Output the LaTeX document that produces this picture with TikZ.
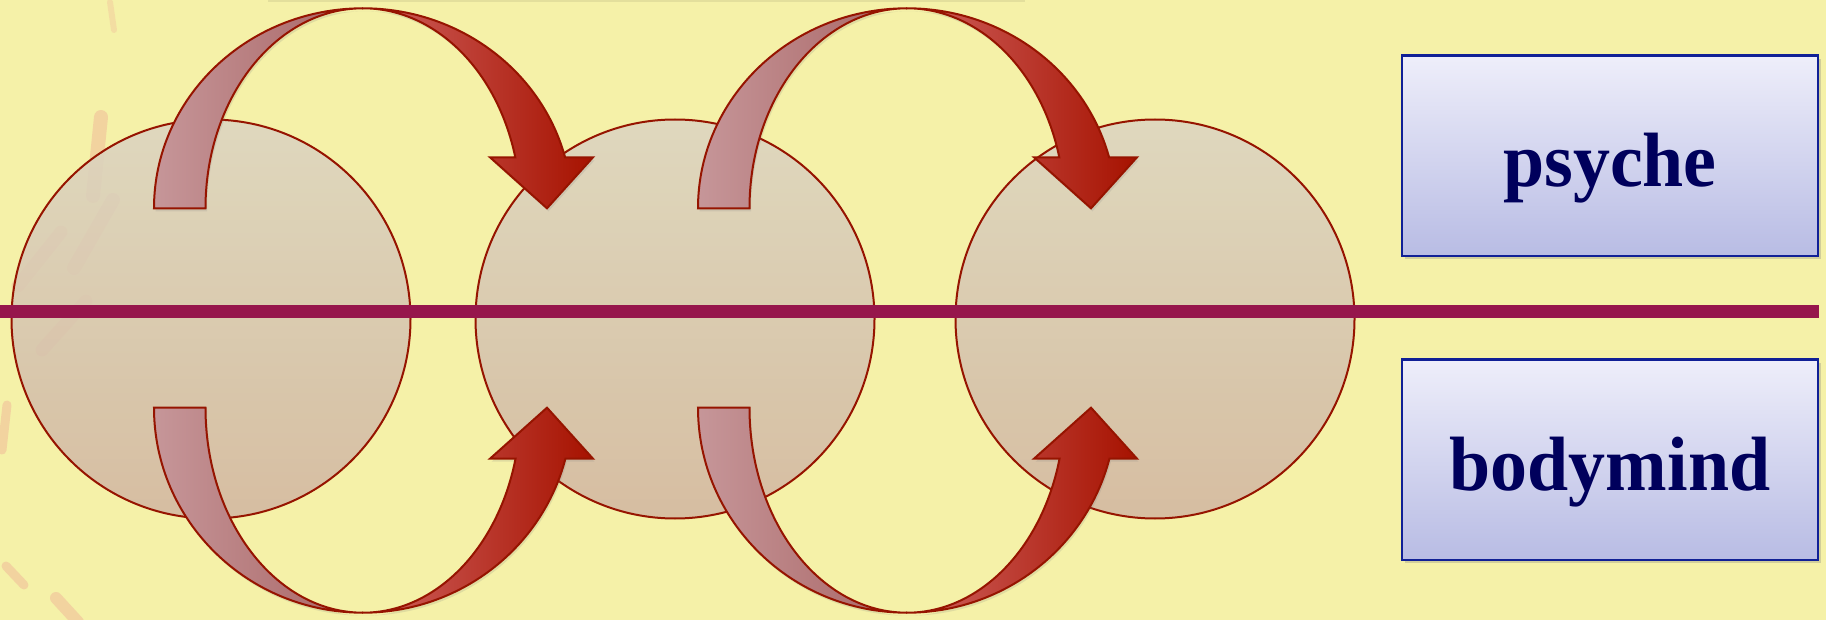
\documentclass[tikz,border=0pt]{standalone}
\usepackage{fontspec}
\setmainfont{Liberation Serif}
\usepackage{graphicx}
\usetikzlibrary{shadows}
\definecolor{bg}{RGB}{245,241,168}
\definecolor{streak}{RGB}{240,175,150}
\definecolor{circtop}{RGB}{220,213,193}
\definecolor{circbot}{RGB}{210,183,161}
\definecolor{darkred}{RGB}{150,20,0}
\definecolor{divline}{RGB}{150,22,76}
\definecolor{backL}{RGB}{198,150,153}
\definecolor{backR}{RGB}{168,100,100}
\definecolor{frontL}{RGB}{208,98,95}
\definecolor{frontR}{RGB}{166,18,0}
\definecolor{boxborder}{RGB}{16,32,150}
\definecolor{boxtop}{RGB}{238,238,250}
\definecolor{boxbot}{RGB}{184,188,228}
\definecolor{navytext}{RGB}{0,0,92}
\tikzset{
  circ/.style={circle, minimum size=399pt, inner sep=0pt, draw=darkred, line width=2pt,
    top color=circtop, bottom color=circbot, fill opacity=0.88},
  arrowback/.style={draw=darkred, line width=2pt, left color=backL, right color=backR,
    drop shadow={opacity=0.18, shadow xshift=1.5pt, shadow yshift=-3pt}},
  arrowfront/.style={draw=darkred, line width=2pt, left color=frontL, right color=frontR,
    drop shadow={opacity=0.18, shadow xshift=1.5pt, shadow yshift=-3pt}},
  labelbox/.style={rectangle, draw=boxborder, line width=2.2pt, top color=boxtop, bottom color=boxbot,
    minimum width=416pt, minimum height=200.5pt, inner sep=0pt, text height=61pt, text depth=0pt,
    text=navytext, font=\fontsize{77}{80}\selectfont\bfseries,
    drop shadow={opacity=0.3, shadow xshift=3pt, shadow yshift=-3pt}},
  streakline/.style={draw=streak, line cap=round, opacity=0.45}
}
% #1 centre of the ellipses, #2 vertical radius, #3 +1 (arc above) or -1 (arc below)
\newcommand\bandarrow[3]{%
  \begin{scope}[shift={#1}]
    \pgfmathsetmacro\aPk{180-90*(#3)}%
    \pgfmathsetmacro\aEnd{180-(#3)*(180-asin(51/#2))}%
    \pgfmathsetmacro\hY{51*(#3)}%
    \pgfmathsetmacro\inX{157.5*cos(asin(51/#2))}%
    \pgfmathsetmacro\pkY{(#2)*(#3)}%
    \path[arrowback] (-209,0) arc[start angle=180, end angle=\aPk, x radius=209, y radius=#2]
      arc[start angle=\aPk, end angle=180, x radius=157.5, y radius=#2] -- cycle;
    \path[arrowfront] (0,\pkY) arc[start angle=\aPk, end angle=\aEnd, x radius=209, y radius=#2]
      -- (230,\hY) -- (184,0) -- (127,\hY) -- (\inX,\hY)
      arc[start angle=\aEnd, end angle=\aPk, x radius=157.5, y radius=#2] -- cycle;
  \end{scope}}
\begin{document}
\begin{tikzpicture}[x=1pt,y=1pt]
  \fill[bg] (0,0) rectangle (1826,-620);
  \useasboundingbox (0,0) rectangle (1826,-620);
  \fill[black, opacity=0.07] (268,0) rectangle (1025,-2.5);
  % faint background streaks
  \draw[streakline, line width=14pt] (93,-196) -- (101,-117);
  \draw[streakline, line width=14pt] (74,-268) -- (113,-200);
  \draw[streakline, line width=13pt] (18,-286) -- (61,-232);
  \draw[streakline, line width=13pt] (42,-350) -- (86,-301);
  \draw[streakline, line width=9pt] (2,-450) -- (7,-405);
  \draw[streakline, line width=9pt] (6,-566) -- (24,-585);
  \draw[streakline, line width=12pt] (56,-598) -- (78,-622);
  \draw[streakline, line width=6pt, opacity=0.3] (110,-2) -- (114,-30);
  % circles
  \node[circ] (c1) at (211,-319) {};
  \node[circ] (c2) at (675,-319) {};
  \node[circ] (c3) at (1155,-319) {};
  % dividing line
  \coordinate (lineL) at (0,-311.6);
  \coordinate (lineR) at (1819,-311.6);
  \draw[divline, line width=13pt] (lineL) -- (lineR);
  % curved arrows
  \bandarrow{(363,-208.3)}{200}{1}
  \bandarrow{(907,-208.3)}{200}{1}
  \bandarrow{(363,-407.7)}{205}{-1}
  \bandarrow{(907,-407.7)}{205}{-1}
  % label boxes
  \node[labelbox] (psyche) at (1610,-155.8) {\scalebox{0.96}[1]{psyche}};
  \node[labelbox] (bodymind) at (1610,-459.8) {\scalebox{0.96}[1]{bodymind}};
\end{tikzpicture}
\end{document}
